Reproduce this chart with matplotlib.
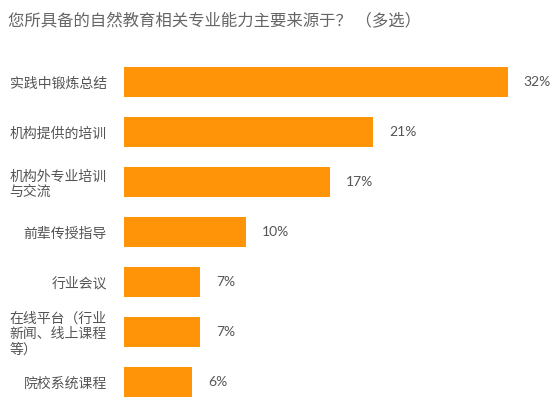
import matplotlib.pyplot as plt

plt.rcParams['font.family'] = ['Noto Sans CJK SC', 'DejaVu Sans']

# data
categories = ['实践中锻炼总结', '机构提供的培训', '机构外专业培训\n与交流', '前辈传授指导',
              '行业会议', '在线平台（行业\n新闻、线上课程\n等）', '院校系统课程']
values = [32.0, 20.8, 17.2, 10.2, 6.4, 6.4, 5.7]
value_labels = ['32%', '21%', '17%', '10%', '7%', '7%', '6%']
title = '您所具备的自然教育相关专业能力主要来源于？ （多选）'

W, H = 559, 407
fig = plt.figure(figsize=(W / 100, H / 100), dpi=100)
ax = fig.add_axes([123.5 / W, 0, (W - 123.5) / W, 350 / H])

ypos = list(range(len(categories)))
ax.barh(ypos, values, height=0.6, color='#FF9409')
ax.set_ylim(len(categories) - 0.5, -0.5)
ax.set_xlim(0, (W - 123.5) / 12)

ax.set_yticks(ypos)
ax.set_yticklabels(categories, fontsize=10, color='#555555', linespacing=1.15)
for lbl in ax.get_yticklabels():
    lbl.set_multialignment('left')
ax.tick_params(axis='y', length=0, pad=12)
ax.set_xticks([])
for s in ax.spines.values():
    s.set_visible(False)

for y, v, t in zip(ypos, values, value_labels):
    ax.annotate(t, (v, y), xytext=(11.5, 0), textcoords='offset points',
                ha='left', va='center', fontsize=10, color='#555555',
                family=['Lato', 'DejaVu Sans'])

fig.text(8 / W, 1 - 22 / H, title, fontsize=11.8, color='#666666',
         ha='left', va='center')

fig.savefig('out.png', dpi=100)
